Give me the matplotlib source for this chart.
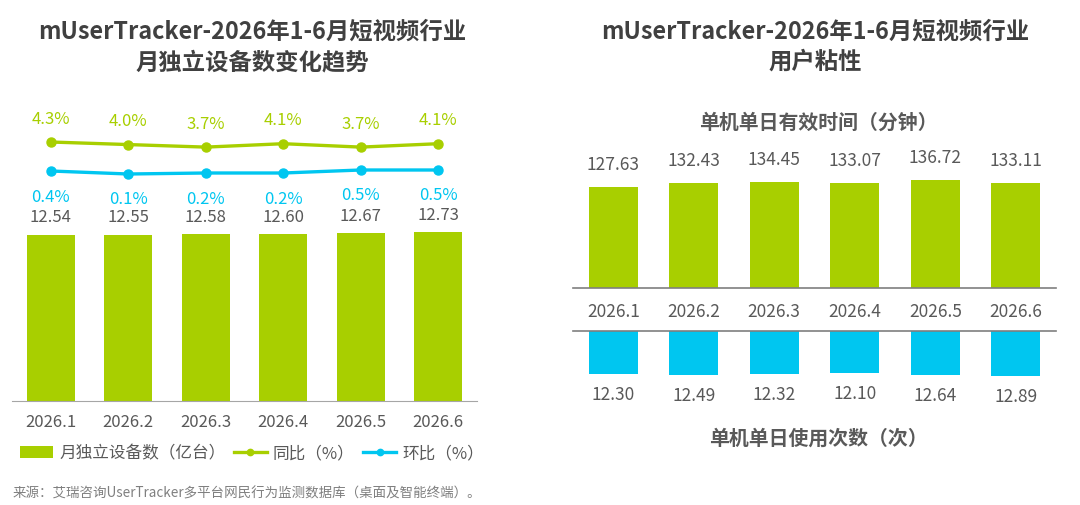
import matplotlib.pyplot as plt
import numpy as np

plt.rcParams['font.family'] = ['Noto Sans CJK SC', 'DejaVu Sans']

GREEN = "#A8CF00"
BLUE = "#00C6F0"
GRAY = "#595959"
DARK = "#404040"

months = ["2026.1", "2026.2", "2026.3", "2026.4", "2026.5", "2026.6"]
devices = [12.54, 12.55, 12.58, 12.60, 12.67, 12.73]      # 亿台
yoy = [4.3, 4.0, 3.7, 4.1, 3.7, 4.1]                      # 同比 %
mom = [0.4, 0.1, 0.2, 0.2, 0.5, 0.5]                      # 环比 %
daily_minutes = [127.63, 132.43, 134.45, 133.07, 136.72, 133.11]
daily_times = [12.30, 12.49, 12.32, 12.10, 12.64, 12.89]

W, H = 1080, 506
fig = plt.figure(figsize=(W / 100, H / 100), dpi=100)


def box(x0, y_top, x1, y_bot):
    # pixel box -> figure fraction
    return [x0 / W, 1 - y_bot / H, (x1 - x0) / W, (y_bot - y_top) / H]


x = np.arange(len(months))

# ---------------- left chart ----------------
fig.text(252 / W, 1 - 32 / H, "mUserTracker-2026年1-6月短视频行业", ha="center", va="center",
         fontsize=16.8, fontweight="bold", color=DARK)
fig.text(252 / W, 1 - 62 / H, "月独立设备数变化趋势", ha="center", va="center",
         fontsize=16.8, fontweight="bold", color=DARK)

ax = fig.add_axes(box(12, 100, 477, 402))
ax.bar(x, devices, width=0.62, color=GREEN, label="月独立设备数（亿台）")
ax.set_xlim(-0.5, 5.5)
ax.set_ylim(0, 22.8)
for xi, v in zip(x, devices):
    ax.annotate(f"{v:.2f}", (xi, v), xytext=(0, 18), textcoords="offset pixels",
                ha="center", va="center", fontsize=12, color=GRAY)
ax.set_xticks(x, months)
ax.tick_params(axis="x", length=0, pad=9, labelsize=12, labelcolor=GRAY)
ax.set_yticks([])
for s in ["top", "left", "right"]:
    ax.spines[s].set_visible(False)
ax.spines["bottom"].set_color("#A6A6A6")

ax_g = ax.twinx()
ax_g.plot(x, yoy, color=GREEN, lw=2.4, marker="o", ms=6.5, label="同比（%）")
ax_g.set_ylim(-26.17, 9.36)
for xi, v in zip(x, yoy):
    ax_g.annotate(f"{v:.1f}%", (xi, v), xytext=(0, 24), textcoords="offset pixels",
                  ha="center", va="center", fontsize=12, color=GREEN)

ax_b = ax.twinx()
ax_b.plot(x, mom, color=BLUE, lw=2.4, marker="o", ms=6.5, label="环比（%）")
ax_b.set_ylim(-22.6, 7.6)
for xi, v in zip(x, mom):
    ax_b.annotate(f"{v:.1f}%", (xi, v), xytext=(0, -25), textcoords="offset pixels",
                  ha="center", va="center", fontsize=12, color=BLUE)

for a in (ax_g, ax_b):
    a.axis("off")

handles = [ax.containers[0], ax_g.lines[0], ax_b.lines[0]]
fig.legend(handles, [h.get_label() for h in handles], loc="center",
           bbox_to_anchor=(252 / W, 1 - 454 / H), ncol=3, frameon=False,
           fontsize=12, labelcolor=GRAY, handlelength=2.0, handletextpad=0.35,
           columnspacing=0.5, markerscale=0.7, borderaxespad=0)

fig.text(13 / W, 1 - 494 / H, "来源：艾瑞咨询UserTracker多平台网民行为监测数据库（桌面及智能终端）。",
         ha="left", va="center", fontsize=9.7, color="#7F7F7F")

# ---------------- right chart ----------------
fig.text(815 / W, 1 - 32 / H, "mUserTracker-2026年1-6月短视频行业", ha="center", va="center",
         fontsize=16.8, fontweight="bold", color=DARK)
fig.text(815 / W, 1 - 62 / H, "用户粘性", ha="center", va="center",
         fontsize=16.8, fontweight="bold", color=DARK)
fig.text(818 / W, 1 - 122 / H, "单机单日有效时间（分钟）", ha="center", va="center",
         fontsize=14.3, fontweight="bold", color=GRAY)
fig.text(818 / W, 1 - 438 / H, "单机单日使用次数（次）", ha="center", va="center",
         fontsize=14.3, fontweight="bold", color=GRAY)

ax_t = fig.add_axes(box(573, 139, 1056, 289))
ax_t.bar(x, daily_minutes, width=0.61, color=GREEN)
ax_t.set_xlim(-0.5, 5.5)
ax_t.set_ylim(0, 189.5)
for xi, v in zip(x, daily_minutes):
    ax_t.annotate(f"{v:.2f}", (xi, v), xytext=(0, 23), textcoords="offset pixels",
                  ha="center", va="center", fontsize=12.5, color=GRAY)
ax_t.set_xticks(x, months)
ax_t.tick_params(axis="x", length=0, pad=10, labelsize=12.5, labelcolor=GRAY)
ax_t.set_yticks([])
for s in ["top", "left", "right"]:
    ax_t.spines[s].set_visible(False)
ax_t.spines["bottom"].set_color("#7F7F7F")
ax_t.spines["bottom"].set_linewidth(1.2)

ax_d = fig.add_axes(box(573, 332, 1056, 412))
ax_d.bar(x, daily_times, width=0.61, color=BLUE)
ax_d.set_xlim(-0.5, 5.5)
ax_d.set_ylim(22.9, 0)
for xi, v in zip(x, daily_times):
    ax_d.annotate(f"{v:.2f}", (xi, v), xytext=(0, -20), textcoords="offset pixels",
                  ha="center", va="center", fontsize=12.5, color=GRAY)
ax_d.set_xticks([])
ax_d.set_yticks([])
for s in ["bottom", "left", "right"]:
    ax_d.spines[s].set_visible(False)
ax_d.spines["top"].set_color("#7F7F7F")
ax_d.spines["top"].set_linewidth(1.2)

fig.savefig("out.png", dpi=100, facecolor="white")
